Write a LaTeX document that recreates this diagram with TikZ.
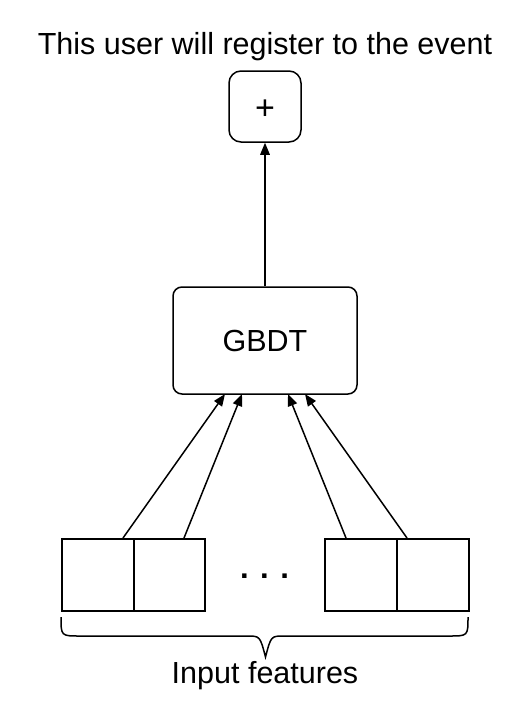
\documentclass[tikz,border=0pt]{standalone}
\usepackage{fontspec}
\setmainfont{Liberation Sans}
\usetikzlibrary{arrows.meta}
\begin{document}
\begin{tikzpicture}[x=1pt,y=-1pt,
  lw/.style={line width=1.5pt},
  rbox/.style={draw,lw,rounded corners=#1},
  feat/.style={draw,lw,minimum width=72pt,minimum height=72pt,inner sep=0pt,anchor=north west},
  arr/.style={lw,-{Triangle[length=12pt,width=9.5pt]}},
  lbl/.style={font=\fontsize{30.5}{36}\selectfont,inner sep=0pt}]
\useasboundingbox (0,0) rectangle (530,704);
\node[lbl,anchor=base] (title) at (265,54) {This user will register to the event};
\node[rbox=12pt,minimum width=72pt,minimum height=71pt,inner sep=0pt] (plus) at (265,106.5) {};
\node[inner sep=0pt] (pluslbl) at (265,110) {\fontsize{34}{40}\selectfont +};
\node[rbox=9pt,minimum width=184pt,minimum height=107pt,inner sep=0pt] (gbdt) at (265,340.5) {};
\node[lbl,anchor=base] (gbdtlbl) at (265,351) {GBDT};
\node[feat] (f1) at (61,538) {};
\node[feat,minimum width=71pt] (f2) at (133,538) {};
\node[feat] (f3) at (324,538) {};
\node[feat] (f4) at (396,538) {};
\node[inner sep=0pt,anchor=base] (dots) at (264.5,578) {\fontsize{31}{36}\selectfont\bfseries . . .};
\coordinate (s1) at (123,538);
\coordinate (s2) at (184,538);
\coordinate (s3) at (346,538);
\coordinate (s4) at (407,538);
\coordinate (e1) at (225,394);
\coordinate (e2) at (242,394);
\coordinate (e3) at (288,394);
\coordinate (e4) at (305,394);
\draw[arr] (s1) -- (e1);
\draw[arr] (s2) -- (e2);
\draw[arr] (s3) -- (e3);
\draw[arr] (s4) -- (e4);
\draw[arr] (gbdt.north) -- (plus.south);
\draw[lw] (61,617) .. controls (61,636) .. (80,636) -- (247,636) .. controls (260,636) .. (265.5,657) .. controls (271,636) .. (284,636) -- (449,636) .. controls (468,636) .. (468,617);
\node[lbl,anchor=base] (inlbl) at (265,683) {Input features};
\end{tikzpicture}
\end{document}
